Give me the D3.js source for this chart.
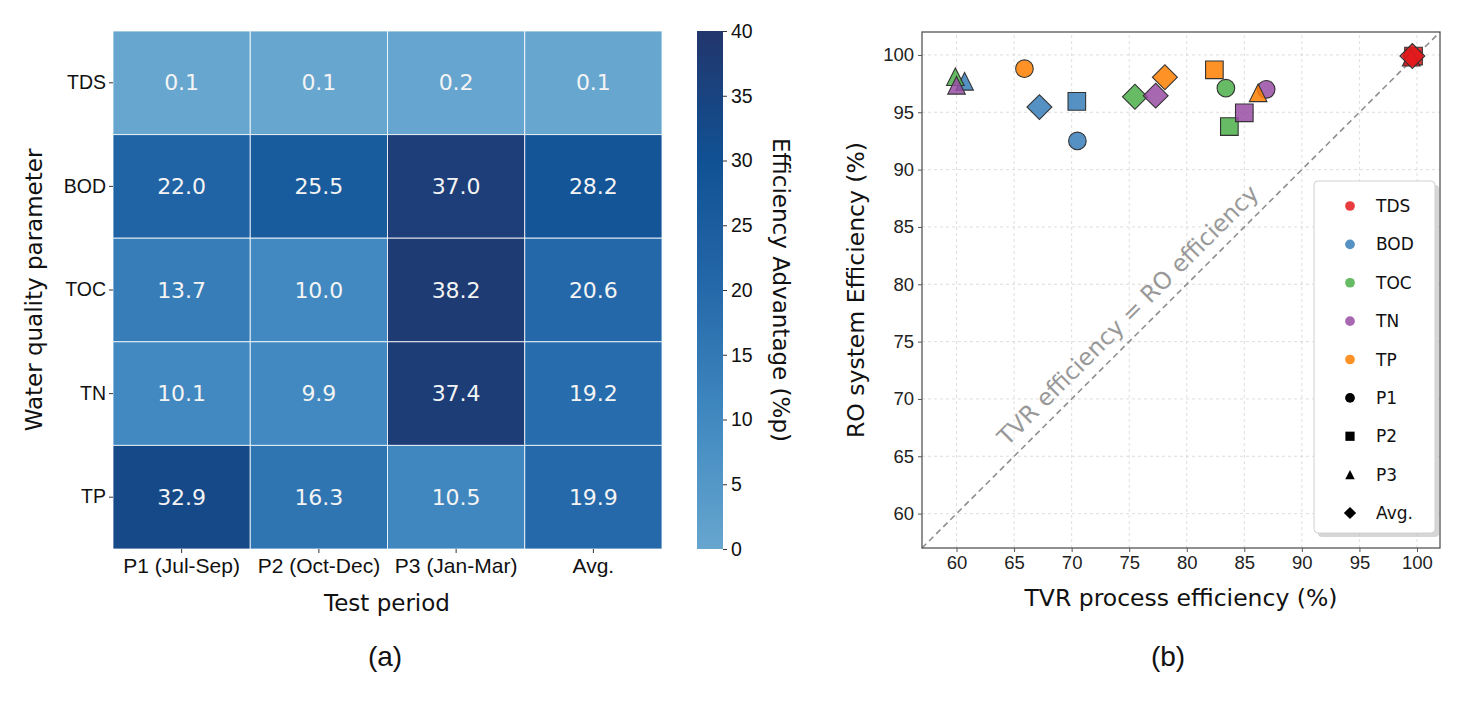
<!DOCTYPE html>
<html><head><meta charset="utf-8">
<script src="https://cdn.jsdelivr.net/npm/d3@7"></script>
<style>
body{margin:0;background:#fff;}
svg{font-family:"DejaVu Sans",sans-serif;}
</style></head>
<body>
<svg id="chart" width="1466" height="703"></svg>
<script>
// ---------- DATA ----------
const params = ["TDS","BOD","TOC","TN","TP"];
const periods = ["P1 (Jul-Sep)","P2 (Oct-Dec)","P3 (Jan-Mar)","Avg."];
const advTDS = [0.1,0.1,0.2,0.1];
const advBOD = [22.0,25.5,37.0,28.2];
const advTOC = [13.7,10.0,38.2,20.6];
const advTN  = [10.1,9.9,37.4,19.2];
const advTP  = [32.9,16.3,10.5,19.9];
const colorbarTicks = [0,5,10,15,20,25,30,35,40];

const shapeNames = ["P1","P2","P3","Avg."];
// TVR process efficiency (x) and RO system efficiency (y) per period P1,P2,P3,Avg.
const tvrTDS = [99.6,99.7,99.5,99.6];
const roTDS  = [99.9,99.9,99.8,99.9];
const tvrBOD = [70.5,70.45,60.7,67.2];
const roBOD  = [92.5,95.95,97.7,95.45];
const tvrTOC = [83.4,83.7,59.9,75.5];
const roTOC  = [97.1,93.75,98.1,96.35];
const tvrTN  = [86.9,85.0,60.0,77.3];
const roTN   = [97.0,94.95,97.35,96.45];
const tvrTP  = [65.9,82.4,86.2,78.1];
const roTP   = [98.8,98.7,96.7,98.05];
const axisTicks = [60,65,70,75,80,85,90,95,100];

const paramColors = ["#e41a1c","#377eb8","#4daf4a","#984ea3","#ff7f00"];

// ---------- SETUP ----------
const svg = d3.select("#chart");
const advRows = [advTDS,advBOD,advTOC,advTN,advTP];
const tvrRows = [tvrTDS,tvrBOD,tvrTOC,tvrTN,tvrTP];
const roRows  = [roTDS,roBOD,roTOC,roTN,roTP];

// ---------- (a) HEATMAP ----------
const hx = d3.scaleBand().domain(periods).range([113,662]);
const hy = d3.scaleBand().domain(params).range([31,549]);
const color = d3.scaleLinear()
  .domain([0,10,20,30,40])
  .range(["#66a6cf","#4189c0","#2569aa","#105194","#22366c"])
  .interpolate(d3.interpolateRgb);

const cells = [];
params.forEach((p,i)=>periods.forEach((q,j)=>cells.push({p,q,v:advRows[i][j]})));

const ga = svg.append("g");
ga.selectAll("rect.cell").data(cells).join("rect")
  .attr("class","cell")
  .attr("x",d=>hx(d.q)).attr("y",d=>hy(d.p))
  .attr("width",hx.bandwidth()).attr("height",hy.bandwidth())
  .attr("fill",d=>color(d.v))
  .attr("stroke","#ffffff").attr("stroke-opacity",0.8).attr("stroke-width",1);
ga.selectAll("text.ann").data(cells).join("text")
  .attr("x",d=>hx(d.q)+hx.bandwidth()/2).attr("y",d=>hy(d.p)+hy.bandwidth()/2)
  .attr("text-anchor","middle").attr("dominant-baseline","central")
  .attr("fill","#f4f4f4").attr("font-size",22)
  .text(d=>d.v.toFixed(1));

const axL = ga.append("g").attr("transform","translate(113,0)")
  .call(d3.axisLeft(hy).tickSize(4).tickPadding(3));
axL.select(".domain").remove();
axL.selectAll("text").attr("font-size",19.5).attr("fill","#111");
axL.selectAll("line").attr("stroke","#333");
const axB = ga.append("g").attr("transform","translate(0,549)")
  .call(d3.axisBottom(hx).tickSize(4).tickPadding(5));
axB.select(".domain").remove();
axB.selectAll("text").attr("font-size",21).attr("fill","#111");
axB.selectAll("line").attr("stroke","#333");

ga.append("text").attr("transform","translate(34,290) rotate(-90)")
  .attr("text-anchor","middle").attr("dominant-baseline","central")
  .attr("font-size",23).attr("fill","#111").text("Water quality parameter");
ga.append("text").attr("x",387).attr("y",611)
  .attr("text-anchor","middle").attr("font-size",23).attr("fill","#111").text("Test period");

// colorbar
const defs = svg.append("defs");
const grad = defs.append("linearGradient").attr("id","cbar")
  .attr("x1","0").attr("y1","1").attr("x2","0").attr("y2","0");
d3.range(0,41,2).forEach(v=>grad.append("stop").attr("offset",v/40).attr("stop-color",color(v)));
const cy = d3.scaleLinear().domain([0,40]).range([549,31]);
ga.append("rect").attr("x",697).attr("y",31).attr("width",26).attr("height",518).attr("fill","url(#cbar)");
const axC = ga.append("g").attr("transform","translate(723,0)")
  .call(d3.axisRight(cy).tickValues(colorbarTicks).tickSize(4).tickPadding(4));
axC.select(".domain").remove();
axC.selectAll("text").attr("font-size",19.5).attr("fill","#111");
axC.selectAll("line").attr("stroke","#333");
ga.append("text").attr("transform","translate(781,290) rotate(90)")
  .attr("text-anchor","middle").attr("dominant-baseline","central")
  .attr("font-size",23).attr("fill","#111").text("Efficiency Advantage (%p)");

ga.append("text").attr("x",385).attr("y",666).attr("text-anchor","middle")
  .attr("font-family","Liberation Sans, Arial, sans-serif")
  .attr("font-size",28).attr("fill","#111").text("(a)");

// ---------- (b) SCATTER ----------
const sx = d3.scaleLinear().domain([57,102]).range([922,1440]);
const sy = d3.scaleLinear().domain([57,102]).range([548,32]);
const gb = svg.append("g");

// grid
gb.selectAll("line.gx").data(axisTicks).join("line")
  .attr("x1",d=>sx(d)).attr("x2",d=>sx(d)).attr("y1",sy(57)).attr("y2",sy(102))
  .attr("stroke","#d5d5d5").attr("stroke-width",0.8).attr("stroke-dasharray","3,3");
gb.selectAll("line.gy").data(axisTicks).join("line")
  .attr("y1",d=>sy(d)).attr("y2",d=>sy(d)).attr("x1",sx(57)).attr("x2",sx(102))
  .attr("stroke","#d5d5d5").attr("stroke-width",0.8).attr("stroke-dasharray","3,3");

// diagonal
gb.append("line").attr("x1",sx(57)).attr("y1",sy(57)).attr("x2",sx(102)).attr("y2",sy(102))
  .attr("stroke","#8f8f8f").attr("stroke-width",1.6).attr("stroke-dasharray","6,4");
const ang = Math.atan2(sy(102)-sy(57), sx(102)-sx(57))*180/Math.PI;
gb.append("text")
  .attr("transform",`translate(${sx(74.9)},${sy(77.3)}) rotate(${ang})`)
  .attr("text-anchor","middle").attr("dominant-baseline","central")
  .attr("font-size",23.5).attr("fill","#999").text("TVR efficiency = RO efficiency");

// markers (matplotlib-like: triangle spans full box)
const triType = {draw(ctx,size){const r=Math.sqrt(size)/2;ctx.moveTo(0,-r);ctx.lineTo(r,r);ctx.lineTo(-r,r);ctx.closePath();}};
const circType = {draw(ctx,size){const r=Math.sqrt(size)/2;ctx.moveTo(r,0);ctx.arc(0,0,r,0,2*Math.PI);}};
const mSize = 310;
const shapeTypes = [circType,d3.symbolSquare,triType,d3.symbolSquare];
const shapeRot = [0,0,0,45];

const pts = [];
params.forEach((p,i)=>shapeNames.forEach((s,j)=>pts.push({i,j,x:tvrRows[i][j],y:roRows[i][j]})));
gb.selectAll("path.pt").data(pts).join("path")
  .attr("d",d=>d3.symbol().type(shapeTypes[d.j]).size(mSize)())
  .attr("transform",d=>`translate(${sx(d.x)},${sy(d.y)}) rotate(${shapeRot[d.j]})`)
  .attr("fill",d=>paramColors[d.i]).attr("fill-opacity",0.85)
  .attr("stroke","#333").attr("stroke-width",1.1);

// frame
gb.append("rect").attr("x",922).attr("y",32).attr("width",518).attr("height",516)
  .attr("fill","none").attr("stroke","#555").attr("stroke-width",1.3);

const axX = gb.append("g").attr("transform","translate(0,548)")
  .call(d3.axisBottom(sx).tickValues(axisTicks).tickSize(4).tickPadding(4));
axX.select(".domain").remove();
axX.selectAll("text").attr("font-size",18.5).attr("fill","#222");
axX.selectAll("line").attr("stroke","#555");
const axY = gb.append("g").attr("transform","translate(922,0)")
  .call(d3.axisLeft(sy).tickValues(axisTicks).tickSize(4).tickPadding(4));
axY.select(".domain").remove();
axY.selectAll("text").attr("font-size",18.5).attr("fill","#222");
axY.selectAll("line").attr("stroke","#555");

gb.append("text").attr("transform","translate(856,290) rotate(-90)")
  .attr("text-anchor","middle").attr("dominant-baseline","central")
  .attr("font-size",23.5).attr("fill","#111").text("RO system Efficiency (%)");
gb.append("text").attr("x",1181).attr("y",606).attr("text-anchor","middle")
  .attr("font-size",23.5).attr("fill","#111").text("TVR process efficiency (%)");

// legend
const lg = gb.append("g");
lg.append("rect").attr("x",1318).attr("y",185).attr("width",121).attr("height",352)
  .attr("rx",4).attr("fill","#bbb").attr("opacity",0.6);
lg.append("rect").attr("x",1314).attr("y",181).attr("width",121).attr("height",352)
  .attr("rx",4).attr("fill","#fff").attr("stroke","#d0d0d0").attr("stroke-width",1);
const legItems = params.map((p,i)=>({label:p,color:paramColors[i],type:circType,size:95,rot:0}))
  .concat(shapeNames.map((s,j)=>({label:s,color:"#000",type:shapeTypes[j],size:[95,85,90,75][j],rot:shapeRot[j]})));
const ly = d3.scalePoint().domain(legItems.map(d=>d.label)).range([206,513]);
const le = lg.selectAll("g.le").data(legItems).join("g")
  .attr("transform",d=>`translate(1350,${ly(d.label)})`);
le.append("path").attr("d",d=>d3.symbol().type(d.type).size(d.size)()).attr("transform",d=>`rotate(${d.rot})`)
  .attr("fill",d=>d.color).attr("fill-opacity",d=>d.color==="#000"?1:0.85);
le.append("text").attr("x",26).attr("dominant-baseline","central")
  .attr("font-size",17).attr("fill","#111").text(d=>d.label);

gb.append("text").attr("x",1168).attr("y",666).attr("text-anchor","middle")
  .attr("font-family","Liberation Sans, Arial, sans-serif")
  .attr("font-size",28).attr("fill","#111").text("(b)");
</script>
</body></html>
